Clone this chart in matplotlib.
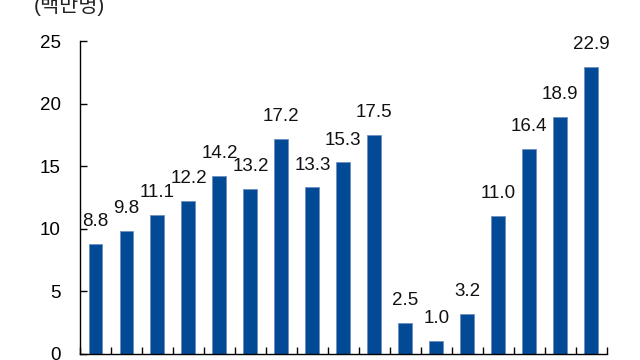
import numpy as np
import matplotlib.pyplot as plt
from matplotlib.ticker import FixedLocator, NullFormatter

plt.rcParams['font.family'] = ['Liberation Sans', 'Noto Sans CJK KR', 'DejaVu Sans']

values = [8.8, 9.8, 11.1, 12.2, 14.2, 13.2, 17.2, 13.3, 15.3, 17.5,
          2.5, 1.0, 3.2, 11.0, 16.4, 18.9, 22.9]
labels = ['8.8', '9.8', '11.1', '12.2', '14.2', '13.2', '17.2', '13.3', '15.3',
          '17.5', '2.5', '1.0', '3.2', '11.0', '16.4', '18.9', '22.9']
y_ticks = [0, 5, 10, 15, 20, 25]
unit = '(백만명)'

bar_color = '#024A95'

fig = plt.figure(figsize=(6.4, 3.6), dpi=100)
ax = fig.add_axes([0.125, 0.017, 0.823, 0.869])

x = np.arange(len(values))
bars = ax.bar(x, values, width=0.45, color=bar_color, edgecolor='#6F8FBF',
              linewidth=0.6)

for xi, v, lab in zip(x, values, labels):
    ax.annotate(lab, (xi, v), xytext=(0, 10), textcoords='offset points',
                ha='center', va='bottom', fontsize=13.5, color='#111111')

ax.set_xlim(-0.5, len(values) - 0.5)
ax.set_ylim(0, 25)
ax.set_yticks(y_ticks)
ax.tick_params(axis='y', direction='in', length=5, width=1, labelsize=13.5,
               pad=14, colors='black')
ax.xaxis.set_major_locator(FixedLocator(np.arange(len(values) + 1) - 0.5))
ax.xaxis.set_major_formatter(NullFormatter())
ax.tick_params(axis='x', direction='in', length=5, width=1)

for side in ['top', 'right']:
    ax.spines[side].set_visible(False)
for side in ['left', 'bottom']:
    ax.spines[side].set_linewidth(1)

fig.text(0.109, 0.985, unit, ha='center', va='center', fontsize=15,
         color='#222222')

fig.savefig('out.png', dpi=100)
